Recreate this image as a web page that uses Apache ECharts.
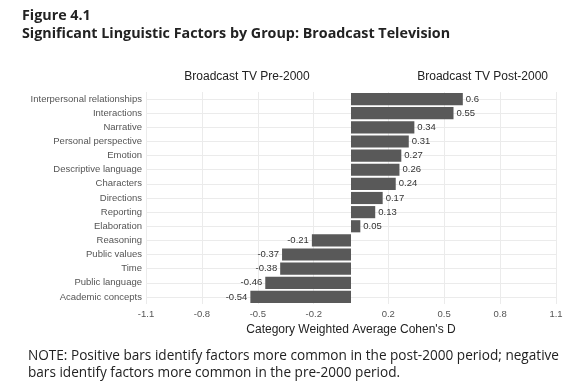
<!DOCTYPE html>
<html><head><meta charset="utf-8">
<script src="https://cdn.jsdelivr.net/npm/echarts@6/dist/echarts.min.js"></script>
<style>html,body{margin:0;padding:0;background:#fff}#c{width:584px;height:386px}</style>
</head><body><div id="c"></div>
<script>
const categories = ["Interpersonal relationships","Interactions","Narrative","Personal perspective","Emotion","Descriptive language","Characters","Directions","Reporting","Elaboration","Reasoning","Public values","Time","Public language","Academic concepts"];
const values = [0.6,0.55,0.34,0.31,0.27,0.26,0.24,0.17,0.13,0.05,-0.21,-0.37,-0.38,-0.46,-0.54];
const tickValues = [-1.1,-0.8,-0.5,-0.2,0.2,0.5,0.8,1.1];
const figureLabel = "Figure 4.1";
const figureTitle = "Significant Linguistic Factors by Group: Broadcast Television";
const leftHeader = "Broadcast TV Pre-2000";
const rightHeader = "Broadcast TV Post-2000";
const axisTitle = "Category Weighted Average Cohen's D";
const noteLines = ["NOTE: Positive bars identify factors more common in the post-2000 period; negative","bars identify factors more common in the pre-2000 period."];

const chart = echarts.init(document.getElementById('c'), null, {renderer:'canvas'});
const titleFont = "'Open Sans', 'Noto Sans', sans-serif";
const chartFont = "'Liberation Sans', Arial, sans-serif";
chart.setOption({
  animation:false,
  backgroundColor:'#fff',
  title:[
    {text:figureLabel, left:22, top:9, padding:0, textStyle:{fontFamily:titleFont, fontWeight:'bold', fontSize:14.3, color:'#222'}},
    {text:figureTitle, left:22, top:27, padding:0, textStyle:{fontFamily:titleFont, fontWeight:'bold', fontSize:14.3, color:'#222'}},
    {text:leftHeader, left:247, top:71, padding:0, textAlign:'center', textStyle:{fontFamily:chartFont, fontWeight:'normal', fontSize:12, color:'#222'}},
    {text:rightHeader, right:36, top:71, padding:0, textStyle:{fontFamily:chartFont, fontWeight:'normal', fontSize:12, color:'#222'}},
    {text:noteLines[0], left:28, top:349, padding:0, textStyle:{fontFamily:titleFont, fontWeight:'normal', fontSize:13.6, color:'#222'}},
    {text:noteLines[1], left:28, top:366, padding:0, textStyle:{fontFamily:titleFont, fontWeight:'normal', fontSize:13.6, color:'#222'}}
  ],
  grid:{left:146, right:28, top:92, bottom:82, containLabel:false},
  xAxis:{
    type:'value', min:-1.1, max:1.1,
    name:axisTitle, nameLocation:'middle', nameGap:17,
    nameTextStyle:{fontFamily:chartFont, fontSize:12, color:'#222'},
    axisLine:{show:false}, axisTick:{show:false, customValues:tickValues},
    axisLabel:{customValues:tickValues, fontFamily:chartFont, fontSize:9.5, color:'#555', margin:5, showMinLabel:true, showMaxLabel:true},
    splitLine:{show:true, lineStyle:{color:'#ebebeb', width:1}}
  },
  yAxis:{
    type:'category', data:categories, inverse:true,
    axisLine:{show:false}, axisTick:{show:false, alignWithLabel:true},
    axisLabel:{fontFamily:chartFont, fontSize:9.5, color:'#555', margin:4},
    splitLine:{show:true, alignWithLabel:true, lineStyle:{color:'#ebebeb', width:1}}
  },
  series:[{
    type:'bar', data:values.map(v=>({value:v, label:{position: v>=0?'right':'left'}})),
    barCategoryGap:'14%',
    itemStyle:{color:'#595959'},
    label:{show:true, distance:3, fontFamily:chartFont, fontSize:9.5, color:'#333', formatter:p=>String(p.value)}
  }]
});
</script></body></html>
